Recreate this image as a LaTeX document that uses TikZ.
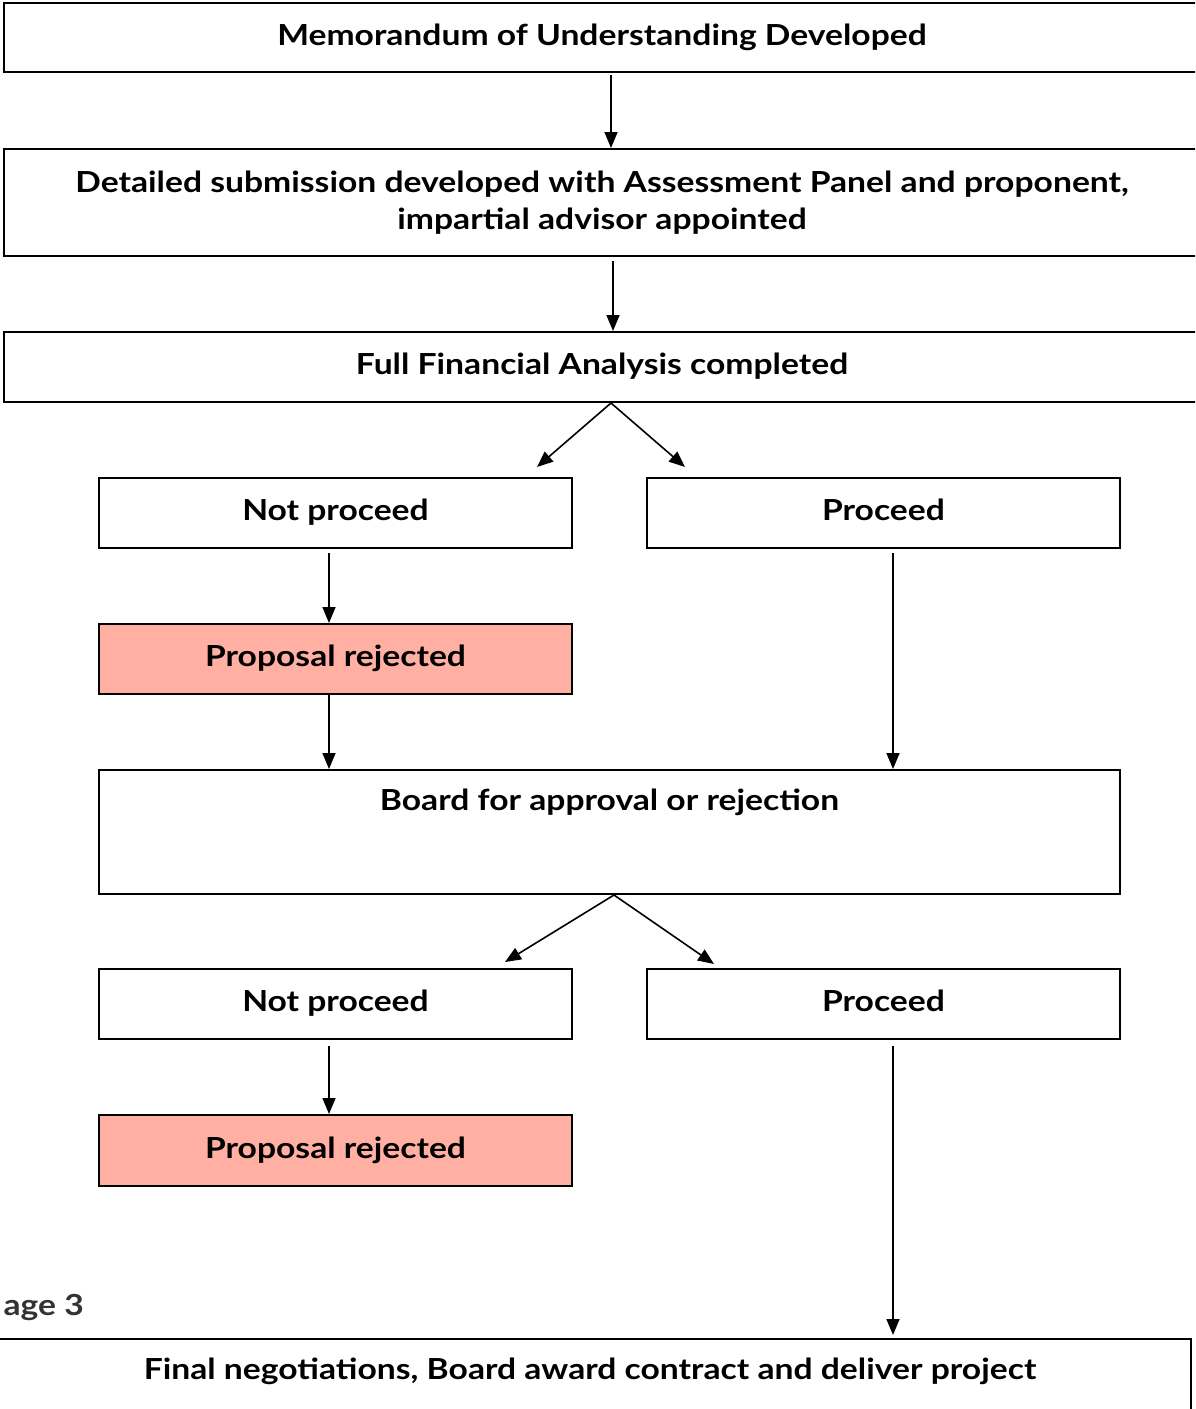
\documentclass[tikz,border=0pt]{standalone}
\usepackage{fontspec}
\setmainfont{Lato}
\newfontfamily\boxfont{Lato}[FakeStretch=1.16]
\usetikzlibrary{arrows.meta}
\definecolor{rejfill}{HTML}{FFB0A2}
\definecolor{labgray}{HTML}{333333}
\begin{document}
\begin{tikzpicture}[x=1pt,y=-1pt,
  txt/.style={font=\fontsize{29}{37}\boxfont\bfseries},
  box/.style={draw=black,line width=2pt,rectangle,inner sep=0pt,align=center,txt,
    text height=21pt,text depth=6pt},
  rej/.style={box,fill=rejfill},
  lab/.style={txt,inner sep=0pt,text height=21pt,text depth=6pt},
  arr/.style={line width=1.6pt,-{Triangle[length=16pt,width=13pt]}}]
\useasboundingbox (0,0) rectangle (1195,1409);
\clip (0,0) rectangle (1195,1409);
% boxes
\node[box,minimum width=1196pt,minimum height=69pt] (mou) at (602,37.5) {Memorandum of Understanding Developed};
\node[draw=black,line width=2pt,inner sep=0pt,align=center,txt,minimum width=1196pt,minimum height=107pt] (det) at (602,202.5)
  {Detailed submission developed with Assessment Panel and proponent,\\impartial advisor appointed};
\node[box,minimum width=1196pt,minimum height=70pt] (ffa) at (602,367) {Full Financial Analysis completed};
\node[box,minimum width=473pt,minimum height=70pt] (np1) at (335.5,513) {Not proceed};
\node[box,minimum width=473pt,minimum height=70pt] (pr1) at (883.5,513) {Proceed};
\node[rej,minimum width=473pt,minimum height=70pt] (rj1) at (335.5,659) {Proposal rejected};
\node[box,minimum width=1021pt,minimum height=124pt] (brd) at (609.5,832) {};
\node[lab] (brdt) at (609.5,803) {Board for approval or rejection};
\node[box,minimum width=473pt,minimum height=70pt] (np2) at (335.5,1004) {Not proceed};
\node[box,minimum width=473pt,minimum height=70pt] (pr2) at (883.5,1004) {Proceed};
\node[rej,minimum width=473pt,minimum height=71pt] (rj2) at (335.5,1150.5) {Proposal rejected};
\node[box,minimum width=1196pt,minimum height=81pt] (fin) at (593,1379.5) {};
\node[lab] (fint) at (590,1372) {Final negotiations, Board award contract and deliver project};
\node[lab,text=labgray,anchor=east] (stg) at (84,1308) {age 3};
% helper coordinates
\coordinate (x611) at (611,0);
\coordinate (x613) at (613,0);
\coordinate (x614) at (614,0);
\coordinate (xl) at (329,0);
\coordinate (xr) at (893,0);
\coordinate (d1l) at (537,467);
\coordinate (d1r) at (685,467);
\coordinate (d2l) at (505,962);
\coordinate (d2r) at (714,964);
% connectors
\draw[arr] ([yshift=-2pt]mou.south -| x611) -- (det.north -| x611);
\draw[arr] ([yshift=-4pt]det.south -| x613) -- (ffa.north -| x613);
\draw[arr] (ffa.south -| x611) -- (d1l);
\draw[arr] (ffa.south -| x611) -- (d1r);
\draw[arr] ([yshift=-4pt]np1.south -| xl) -- (rj1.north -| xl);
\draw[arr] (rj1.south -| xl) -- (brd.north -| xl);
\draw[arr] ([yshift=-4pt]pr1.south -| xr) -- (brd.north -| xr);
\draw[arr] (brd.south -| x614) -- (d2l);
\draw[arr] (brd.south -| x614) -- (d2r);
\draw[arr] ([yshift=-6pt]np2.south -| xl) -- (rj2.north -| xl);
\draw[arr] ([yshift=-6pt]pr2.south -| xr) -- ([yshift=3pt]fin.north -| xr);
\end{tikzpicture}
\end{document}
